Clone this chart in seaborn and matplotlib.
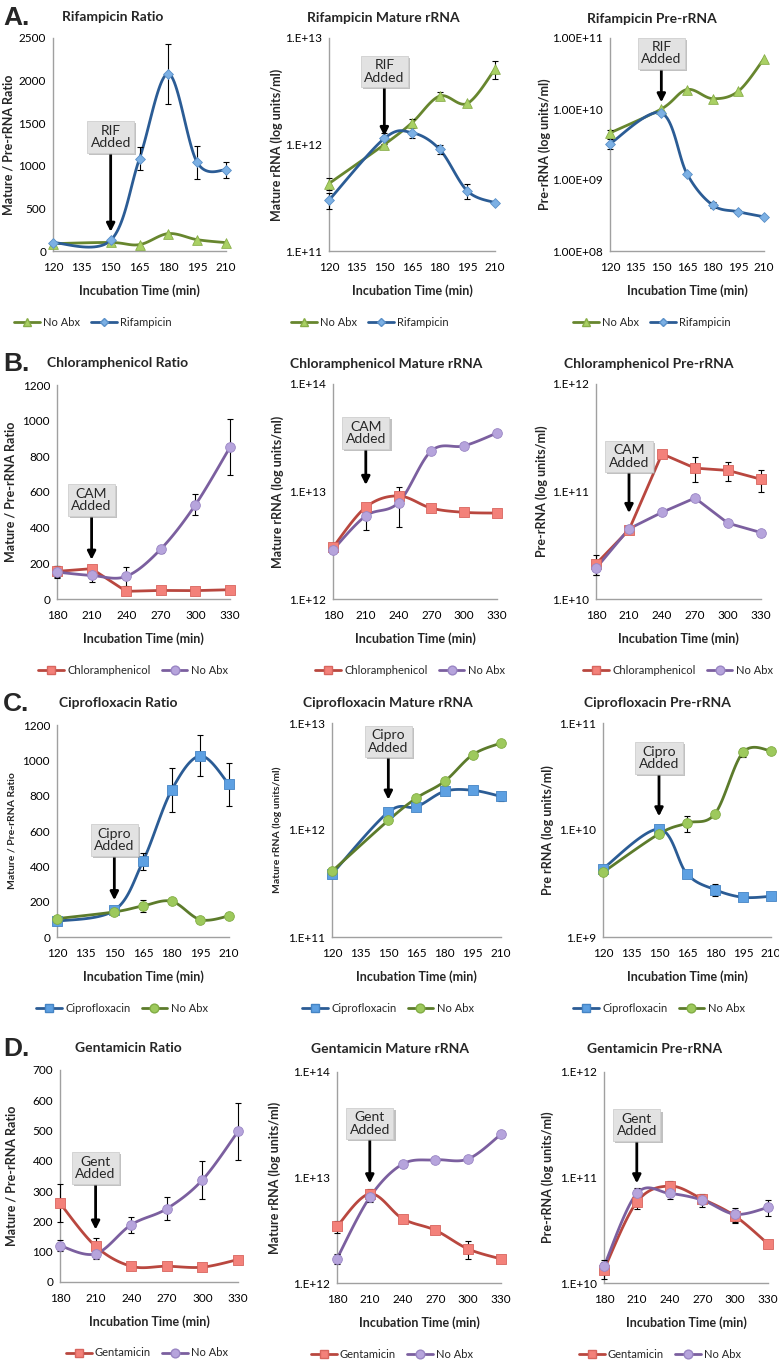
import matplotlib
matplotlib.use('Agg')
import matplotlib.pyplot as plt
import matplotlib.patheffects as pe
from matplotlib.lines import Line2D
from matplotlib.ticker import NullLocator
import numpy as np
import pandas as pd
import seaborn as sns

W, H = 779, 1362

TIME_EARLY = [120, 150, 165, 180, 195, 210]
TIME_LATE = [180, 210, 240, 270, 300, 330]
TICKS_EARLY = [120, 135, 150, 165, 180, 195, 210]
TICKS_LATE = [180, 210, 240, 270, 300, 330]

# A. Rifampicin
RIF_RATIO_NOABX = [86, 100, 75, 204, 133, 98]
RIF_RATIO_NOABX_ERR = [0, 0, 0, 0, 0, 0]
RIF_RATIO_DRUG = [98, 125, 1085, 2080, 1040, 950]
RIF_RATIO_DRUG_ERR = [0, 0, 140, 350, 190, 90]
RIF_MATURE_NOABX = [4.3e11, 1.0e12, 1.6e12, 2.85e12, 2.43e12, 5.1e12]
RIF_MATURE_NOABX_ERR = [0.55e11, 0, 0.15e12, 0.25e12, 0, 1.0e12]
RIF_MATURE_DRUG = [3.0e11, 1.14e12, 1.29e12, 0.9e12, 3.66e11, 2.84e11]
RIF_MATURE_DRUG_ERR = [0.5e11, 0.13e12, 0.14e12, 0.08e12, 0.6e11, 0]
RIF_PRE_NOABX = [4.6e9, 1.0e10, 1.88e10, 1.4e10, 1.78e10, 5.1e10]
RIF_PRE_NOABX_ERR = [0.4e9, 0, 0, 0, 0, 0]
RIF_PRE_DRUG = [3.24e9, 8.8e9, 1.22e9, 4.43e8, 3.57e8, 3.03e8]
RIF_PRE_DRUG_ERR = [0.55e9, 0, 0, 0.4e8, 0.2e8, 0]

# B. Chloramphenicol
CAM_RATIO_DRUG = [155, 170, 43, 48, 47, 52]
CAM_RATIO_DRUG_ERR = [30, 0, 0, 0, 0, 0]
CAM_RATIO_NOABX = [151, 132, 127, 280, 528, 851]
CAM_RATIO_NOABX_ERR = [35, 35, 55, 20, 58, 157]
CAM_MATURE_DRUG = [3.03e12, 7.15e12, 9.1e12, 7.0e12, 6.4e12, 6.3e12]
CAM_MATURE_DRUG_ERR = [0.2e12, 0, 0, 0.55e12, 0, 0.4e12]
CAM_MATURE_NOABX = [2.87e12, 5.93e12, 7.9e12, 2.39e13, 2.66e13, 3.5e13]
CAM_MATURE_NOABX_ERR = [0, 1.5e12, 3.2e12, 0, 0, 0]
CAM_PRE_DRUG = [2.12e10, 4.4e10, 2.24e11, 1.65e11, 1.57e11, 1.30e11]
CAM_PRE_DRUG_ERR = [0.45e10, 0, 0, 0.43e11, 0.33e11, 0.3e11]
CAM_PRE_NOABX = [1.93e10, 4.5e10, 6.4e10, 8.7e10, 5.07e10, 4.15e10]
CAM_PRE_NOABX_ERR = [0.25e10, 0, 0, 0, 0, 0]

# C. Ciprofloxacin
CIP_RATIO_DRUG = [89, 151, 429, 832, 1025, 864]
CIP_RATIO_DRUG_ERR = [0, 0, 48, 125, 116, 122]
CIP_RATIO_NOABX = [104, 142, 176, 202, 98, 119]
CIP_RATIO_NOABX_ERR = [0, 0, 35, 15, 0, 0]
CIP_MATURE_DRUG = [3.88e11, 1.47e12, 1.65e12, 2.3e12, 2.35e12, 2.06e12]
CIP_MATURE_DRUG_ERR = [0, 0, 0.1e12, 0, 0, 0.2e12]
CIP_MATURE_NOABX = [4.11e11, 1.23e12, 1.99e12, 2.85e12, 5.06e12, 6.5e12]
CIP_MATURE_NOABX_ERR = [0, 0, 0, 0.15e12, 0, 0.4e12]
CIP_PRE_DRUG = [4.35e9, 1.02e10, 3.88e9, 2.77e9, 2.35e9, 2.4e9]
CIP_PRE_DRUG_ERR = [0, 0.5e9, 0, 0.35e9, 0.15e9, 0.15e9]
CIP_PRE_NOABX = [4.02e9, 9.2e9, 1.16e10, 1.42e10, 5.32e10, 5.5e10]
CIP_PRE_NOABX_ERR = [0, 0, 0.2e10, 0, 0.5e10, 0]

# D. Gentamicin
GEN_RATIO_DRUG = [260, 118, 52, 52, 49, 74]
GEN_RATIO_DRUG_ERR = [62, 27, 0, 0, 0, 0]
GEN_RATIO_NOABX = [120, 93, 189, 242, 337, 497]
GEN_RATIO_NOABX_ERR = [18, 18, 27, 38, 64, 95]
GEN_MATURE_DRUG = [3.44e12, 7.0e12, 4.07e12, 3.16e12, 2.1e12, 1.69e12]
GEN_MATURE_DRUG_ERR = [0.45e12, 0.7e12, 0.35e12, 0, 0.4e12, 0]
GEN_MATURE_NOABX = [1.7e12, 6.5e12, 1.34e13, 1.47e13, 1.5e13, 2.57e13]
GEN_MATURE_NOABX_ERR = [0.2e12, 0.6e12, 0, 0, 0, 0]
GEN_PRE_DRUG = [1.34e10, 5.85e10, 8.3e10, 6.25e10, 4.3e10, 2.35e10]
GEN_PRE_DRUG_ERR = [0.25e10, 0.8e10, 0.9e10, 0.7e10, 0.6e10, 0.2e10]
GEN_PRE_NOABX = [1.44e10, 7.06e10, 7.06e10, 6.1e10, 4.48e10, 5.2e10]
GEN_PRE_NOABX_ERR = [0.2e10, 0.9e10, 0.8e10, 0.8e10, 0.7e10, 0.9e10]

# series styles: (line colour, marker, face colour, edge colour, marker size)
GREEN_TRI = ('#67862e', '^', '#a9d064', '#88ad48', 7)
BLUE_DIA = ('#2b5c95', 'D', '#7cb0e4', '#5a90c8', 5)
RED_SQ = ('#b9473f', 's', '#f3817a', '#d8655e', 6.5)
PURPLE_CIR = ('#7b5f9f', 'o', '#b6a4dc', '#9a86c4', 7)
BLUE_SQ = ('#2b5c95', 's', '#5da0e2', '#4584c4', 6.5)
GREEN_CIR = ('#5c7b2b', 'o', '#9dc95c', '#82ad45', 7)

RATIO_LABEL = 'Mature / Pre-rRNA Ratio'
MATURE_LABEL = 'Mature rRNA (log units/ml)'
PRE_LABEL = 'Pre-rRNA (log units/ml)'
XLABEL = 'Incubation Time (min)'


def fig_box(left, right, top, bottom):
  return [left / W, 1 - bottom / H, (right - left) / W, (bottom - top) / H]


def smooth_curve(xs, ys, xlim, ylim, log, wpx, hpx):
  """Excel-like smoothed line through the points, computed in screen space."""
  f = np.log10 if log else (lambda v: np.asarray(v, dtype=float))
  u = (np.asarray(xs, float) - xlim[0]) / (xlim[1] - xlim[0]) * wpx
  v = (f(np.asarray(ys, float)) - f(ylim[0])) / (f(ylim[1]) - f(ylim[0])) * hpx
  p = np.column_stack([u, v])
  pe_ = np.vstack([p[0], p, p[-1]])
  t = np.linspace(0, 1, 25)[:, None]
  pts = []
  for i in range(len(p) - 1):
    p0, p1, p2, p3 = pe_[i], pe_[i + 1], pe_[i + 2], pe_[i + 3]
    b1 = p1 + (p2 - p0) / 6
    b2 = p2 - (p3 - p1) / 6
    seg = ((1 - t) ** 3) * p1 + 3 * (1 - t) ** 2 * t * b1 + 3 * (1 - t) * t ** 2 * b2 + t ** 3 * p2
    pts.append(seg if i == 0 else seg[1:])
  pts = np.vstack(pts)
  sx = pts[:, 0] / wpx * (xlim[1] - xlim[0]) + xlim[0]
  sv = pts[:, 1] / hpx * (f(ylim[1]) - f(ylim[0])) + f(ylim[0])
  sy = 10 ** sv if log else sv
  return sx, sy


def log_labels(lo, hi, fmt):
  exps = list(range(lo, hi + 1))
  return [10.0 ** e for e in exps], [fmt.format(e) for e in exps]


PANELS = [
    # row A
    dict(box=(53, 226, 38, 251), title='Rifampicin Ratio', title_xy=(113, 17),
         x=TIME_EARLY, xticks=TICKS_EARLY, ylim=(0, 2500), log=False,
         yticks=list(range(0, 2501, 500)), ylabel=RATIO_LABEL, ylab_x=8, ylab_fs=9,
         series=[('No Abx', RIF_RATIO_NOABX, RIF_RATIO_NOABX_ERR, GREEN_TRI, True),
                 ('Rifampicin', RIF_RATIO_DRUG, RIF_RATIO_DRUG_ERR, BLUE_DIA, True)],
         note='RIF\nAdded', note_xy=(150, 1340), tip=(150, 225), legend_x=93, letter='A.'),
    dict(box=(329, 495, 38, 251), title='Rifampicin Mature rRNA', title_xy=(383, 18),
         x=TIME_EARLY, xticks=TICKS_EARLY, ylim=(1e11, 1e13), log=True,
         yfmt='1.E+{:d}', ylabel=MATURE_LABEL, ylab_x=277, ylab_fs=9,
         series=[('No Abx', RIF_MATURE_NOABX, RIF_MATURE_NOABX_ERR, GREEN_TRI, True),
                 ('Rifampicin', RIF_MATURE_DRUG, RIF_MATURE_DRUG_ERR, BLUE_DIA, True)],
         note='RIF\nAdded', note_xy=(150, 4.85e12), tip=(150, 1.2e12), legend_x=370),
    dict(box=(610, 764, 38, 251), title='Rifampicin Pre-rRNA', title_xy=(652, 19),
         x=TIME_EARLY, xticks=TICKS_EARLY, ylim=(1e8, 1e11), log=True,
         yfmt='1.00E+{:02d}', ylabel=PRE_LABEL, ylab_x=545, ylab_fs=9,
         series=[('No Abx', RIF_PRE_NOABX, RIF_PRE_NOABX_ERR, GREEN_TRI, True),
                 ('Rifampicin', RIF_PRE_DRUG, RIF_PRE_DRUG_ERR, BLUE_DIA, True)],
         note='RIF\nAdded', note_xy=(150, 6.1e10), tip=(150, 1.24e10), legend_x=652),
    # row B
    dict(box=(57, 230, 385, 599), title='Chloramphenicol Ratio', title_xy=(118, 363),
         x=TIME_LATE, xticks=TICKS_LATE, ylim=(0, 1200), log=False,
         yticks=list(range(0, 1201, 200)), ylabel=RATIO_LABEL, ylab_x=10, ylab_fs=9,
         series=[('Chloramphenicol', CAM_RATIO_DRUG, CAM_RATIO_DRUG_ERR, RED_SQ, False),
                 ('No Abx', CAM_RATIO_NOABX, CAM_RATIO_NOABX_ERR, PURPLE_CIR, True)],
         note='CAM\nAdded', note_xy=(210, 556), tip=(210, 220), legend_x=133, letter='B.'),
    dict(box=(333, 497, 384, 599), title='Chloramphenicol Mature rRNA', title_xy=(386, 364),
         x=TIME_LATE, xticks=TICKS_LATE, ylim=(1e12, 1e14), log=True,
         yfmt='1.E+{:d}', ylabel=MATURE_LABEL, ylab_x=278, ylab_fs=9,
         series=[('Chloramphenicol', CAM_MATURE_DRUG, CAM_MATURE_DRUG_ERR, RED_SQ, True),
                 ('No Abx', CAM_MATURE_NOABX, CAM_MATURE_NOABX_ERR, PURPLE_CIR, True)],
         note='CAM\nAdded', note_xy=(210, 3.5e13), tip=(210, 1.15e13), legend_x=410),
    dict(box=(596, 761, 384, 599), title='Chloramphenicol Pre-rRNA', title_xy=(649, 364),
         x=TIME_LATE, xticks=TICKS_LATE, ylim=(1e10, 1e12), log=True,
         yfmt='1.E+{:d}', ylabel=PRE_LABEL, ylab_x=542, ylab_fs=9,
         series=[('Chloramphenicol', CAM_PRE_DRUG, CAM_PRE_DRUG_ERR, RED_SQ, False),
                 ('No Abx', CAM_PRE_NOABX, CAM_PRE_NOABX_ERR, PURPLE_CIR, False)],
         note='CAM\nAdded', note_xy=(210, 2.12e11), tip=(210, 6.3e10), legend_x=678),
    # row C
    dict(box=(57, 229, 725, 937), title='Ciprofloxacin Ratio', title_xy=(118, 703),
         x=TIME_EARLY, xticks=TICKS_EARLY, ylim=(0, 1200), log=False,
         yticks=list(range(0, 1201, 200)), ylabel=RATIO_LABEL, ylab_x=12, ylab_fs=7.5,
         series=[('Ciprofloxacin', CIP_RATIO_DRUG, CIP_RATIO_DRUG_ERR, BLUE_SQ, True),
                 ('No Abx', CIP_RATIO_NOABX, CIP_RATIO_NOABX_ERR, GREEN_CIR, True)],
         note='Cipro\nAdded', note_xy=(150, 548), tip=(150, 208), legend_x=122, letter='C.'),
    dict(box=(332, 501, 723, 937), title='Ciprofloxacin Mature rRNA', title_xy=(388, 703),
         x=TIME_EARLY, xticks=TICKS_EARLY, ylim=(1e11, 1e13), log=True,
         yfmt='1.E+{:d}', ylabel=MATURE_LABEL, ylab_x=277, ylab_fs=7.5,
         series=[('Ciprofloxacin', CIP_MATURE_DRUG, CIP_MATURE_DRUG_ERR, BLUE_SQ, True),
                 ('No Abx', CIP_MATURE_NOABX, CIP_MATURE_NOABX_ERR, GREEN_CIR, True)],
         note='Cipro\nAdded', note_xy=(150, 6.7e12), tip=(150, 1.92e12), legend_x=388),
    dict(box=(603, 771, 723, 937), title='Ciprofloxacin Pre-rRNA', title_xy=(657, 703),
         x=TIME_EARLY, xticks=TICKS_EARLY, ylim=(1e9, 1e11), log=True,
         yfmt='1.E+{:d}', ylabel='Pre rRNA (log units/ml)', ylab_x=548, ylab_fs=9,
         series=[('Ciprofloxacin', CIP_PRE_DRUG, CIP_PRE_DRUG_ERR, BLUE_SQ, True),
                 ('No Abx', CIP_PRE_NOABX, CIP_PRE_NOABX_ERR, GREEN_CIR, True)],
         note='Cipro\nAdded', note_xy=(150, 4.7e10), tip=(150, 1.34e10), legend_x=659),
    # row D
    dict(box=(60, 238, 1070, 1282), title='Gentamicin Ratio', title_xy=(128, 1048),
         x=TIME_LATE, xticks=TICKS_LATE, ylim=(0, 700), log=False,
         yticks=list(range(0, 701, 100)), ylabel=RATIO_LABEL, ylab_x=12, ylab_fs=9,
         series=[('Gentamicin', GEN_RATIO_DRUG, GEN_RATIO_DRUG_ERR, RED_SQ, True),
                 ('No Abx', GEN_RATIO_NOABX, GEN_RATIO_NOABX_ERR, PURPLE_CIR, True)],
         note='Gent\nAdded', note_xy=(210, 376), tip=(210, 173), legend_x=147, letter='D.'),
    dict(box=(337, 501, 1072, 1283), title='Gentamicin Mature rRNA', title_xy=(390, 1049),
         x=TIME_LATE, xticks=TICKS_LATE, ylim=(1e12, 1e14), log=True,
         yfmt='1.E+{:d}', ylabel=MATURE_LABEL, ylab_x=275, ylab_fs=9,
         series=[('Gentamicin', GEN_MATURE_DRUG, GEN_MATURE_DRUG_ERR, RED_SQ, True),
                 ('No Abx', GEN_MATURE_NOABX, GEN_MATURE_NOABX_ERR, PURPLE_CIR, True)],
         note='Gent\nAdded', note_xy=(210, 3.25e13), tip=(210, 8.8e12), legend_x=392),
    dict(box=(604, 768, 1072, 1283), title='Gentamicin Pre-rRNA', title_xy=(655, 1049),
         x=TIME_LATE, xticks=TICKS_LATE, ylim=(1e10, 1e12), log=True,
         yfmt='1.E+{:d}', ylabel='Pre-rRNA (log units/ml)', ylab_x=548, ylab_fs=9,
         series=[('Gentamicin', GEN_PRE_DRUG, GEN_PRE_DRUG_ERR, RED_SQ, True),
                 ('No Abx', GEN_PRE_NOABX, GEN_PRE_NOABX_ERR, PURPLE_CIR, True)],
         note='Gent\nAdded', note_xy=(210, 3.13e11), tip=(210, 8.8e10), legend_x=660),
]

sns.set_style('white')
plt.rcParams['font.family'] = ['Lato', 'DejaVu Sans']

fig = plt.figure(figsize=(W / 100, H / 100), dpi=100)
fig.patch.set_facecolor('white')

AXIS_GREY = '#a0a0a0'
TICK_FS = 8.5

for p in PANELS:
  left, right, top, bottom = p['box']
  wpx, hpx = right - left, bottom - top
  ax = fig.add_axes(fig_box(*p['box']))
  xlim = (p['xticks'][0], p['xticks'][-1])
  if p['log']:
    ax.set_yscale('log')

  handles = []
  for name, vals, errs, style, smooth in p['series']:
    lc, mk, fc, ec, ms = style
    if smooth:
      sx, sy = smooth_curve(p['x'], vals, xlim, p['ylim'], p['log'], wpx, hpx)
    else:
      sx, sy = np.asarray(p['x'], float), np.asarray(vals, float)
    curve = pd.DataFrame({'t': sx, 'v': sy})
    sns.lineplot(data=curve, x='t', y='v', ax=ax, color=lc, lw=2.0,
                 sort=False, estimator=None, zorder=3, clip_on=False)
    e = np.asarray(errs, float)
    mask = e > 0
    if mask.any():
      eb = ax.errorbar(np.asarray(p['x'])[mask], np.asarray(vals)[mask], yerr=e[mask],
                       fmt='none', ecolor='black', elinewidth=0.8, capsize=2.2,
                       capthick=0.8, zorder=4)
      for child in eb.get_children():
        child.set_clip_on(False)
    pts = pd.DataFrame({'t': p['x'], 'v': vals})
    sns.scatterplot(data=pts, x='t', y='v', ax=ax, marker=mk, s=ms ** 2,
                    color=fc, edgecolor=ec, linewidth=0.6, zorder=5, clip_on=False)
    handles.append(Line2D([0], [0], color=lc, lw=2, marker=mk, markersize=ms * 0.9,
                          markerfacecolor=fc, markeredgecolor=ec, label=name))

  ax.set_xlim(*xlim)
  ax.set_ylim(*p['ylim'])
  ax.set_xticks(p['xticks'])
  ax.set_xticklabels([str(v) for v in p['xticks']], fontsize=TICK_FS)
  if p['log']:
    lo = int(round(np.log10(p['ylim'][0])))
    hi = int(round(np.log10(p['ylim'][1])))
    ticks, labels = log_labels(lo, hi, p['yfmt'])
    ax.set_yticks(ticks)
    ax.set_yticklabels(labels, fontsize=TICK_FS)
    ax.yaxis.set_minor_locator(NullLocator())
  else:
    ax.set_yticks(p['yticks'])
    ax.set_yticklabels([str(v) for v in p['yticks']], fontsize=TICK_FS)

  for side in ('top', 'right'):
    ax.spines[side].set_visible(False)
  for side in ('left', 'bottom'):
    ax.spines[side].set_color(AXIS_GREY)
    ax.spines[side].set_linewidth(1.0)
  ax.tick_params(axis='both', which='major', direction='out', length=3,
                 width=0.8, color=AXIS_GREY, labelcolor='black')
  ax.tick_params(axis='x', pad=5)
  ax.tick_params(axis='y', pad=2)

  ax.set_xlabel(XLABEL, fontsize=9, fontweight='bold')
  ax.xaxis.label.set_va('center')
  ax.xaxis.set_label_coords(0.5, -40 / hpx)
  ax.set_ylabel(p['ylabel'], fontsize=p['ylab_fs'], fontweight='bold')
  ax.yaxis.label.set_va('center')
  ax.yaxis.set_label_coords((p['ylab_x'] - left) / wpx, 0.5)

  fig.text(p['title_xy'][0] / W, 1 - p['title_xy'][1] / H, p['title'],
           fontsize=10, fontweight='bold', ha='center', va='center')
  if 'letter' in p:
    fig.text(3 / W, 1 - (p['title_xy'][1] + 1) / H, p['letter'], fontsize=19,
             fontweight='bold', ha='left', va='center', family='Liberation Sans')

  ann = ax.annotate(p['note'], xy=p['tip'], xytext=p['note_xy'], textcoords='data',
                    ha='center', va='center', fontsize=10, linespacing=1.05, zorder=6,
                    bbox=dict(boxstyle='square,pad=0.25', fc='#e2e2e2', ec='#cfcfcf', lw=0.6),
                    arrowprops=dict(arrowstyle='-|>', color='black', lw=2.0,
                                    mutation_scale=12, shrinkA=0, shrinkB=0))
  ann.get_bbox_patch().set_path_effects(
      [pe.withSimplePatchShadow(offset=(1.5, -1.5), shadow_rgbFace='#999999', alpha=0.6)])

  fig.legend(handles=handles, loc='center', ncol=2, frameon=False, fontsize=8,
             handlelength=2.3, columnspacing=1.0, handletextpad=0.3,
             borderaxespad=0, borderpad=0.1,
             bbox_to_anchor=(p['legend_x'] / W, 1 - (bottom + 71) / H))

fig.savefig('out.png', dpi=100, facecolor='white')
